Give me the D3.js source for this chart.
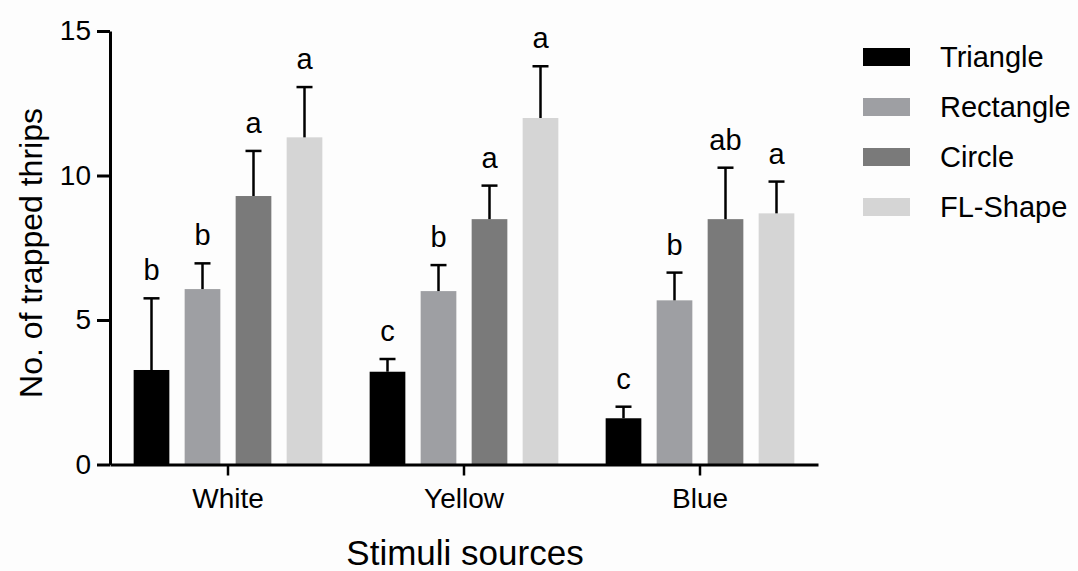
<!DOCTYPE html>
<html>
<head>
<meta charset="utf-8">
<script src="https://cdn.jsdelivr.net/npm/d3@7"></script>
<style>
  body { margin: 0; background: #fdfdfd; }
  svg { display: block; font-family: "Liberation Sans", Arial, sans-serif; }
</style>
</head>
<body>
<svg id="chart"></svg>
<script>
const groups = ["White", "Yellow", "Blue"];
const shapes = ["Triangle", "Rectangle", "Circle", "FL-Shape"];
const colors = ["#000000", "#9e9fa3", "#7a7a7a", "#d5d5d5"];

// means and upper error (SE) per shape, in group order
const triangleMean = [3.27, 3.21, 1.60];
const triangleErr = [2.48, 0.44, 0.40];
const rectangleMean = [6.07, 6.00, 5.68];
const rectangleErr = [0.89, 0.90, 0.96];
const circleMean = [9.29, 8.49, 8.49];
const circleErr = [1.56, 1.16, 1.78];
const flMean = [11.32, 11.99, 8.69];
const flErr = [1.74, 1.79, 1.10];

const triangleLetters = ["b", "c", "c"];
const rectangleLetters = ["b", "b", "b"];
const circleLetters = ["a", "a", "ab"];
const flLetters = ["a", "a", "a"];

const yTicks = [0, 5, 10, 15];

const width = 1078;
const height = 571;

const svg = d3.select("#chart")
  .attr("width", width)
  .attr("height", height);

const means = [triangleMean, rectangleMean, circleMean, flMean];
const errs = [triangleErr, rectangleErr, circleErr, flErr];
const letters = [triangleLetters, rectangleLetters, circleLetters, flLetters];

const rows = [];
groups.forEach((g, gi) => {
  shapes.forEach((s, si) => {
    rows.push({ group: g, shape: s, color: colors[si], mean: means[si][gi], err: errs[si][gi], letter: letters[si][gi] });
  });
});

const y = d3.scaleLinear().domain([0, 15]).range([464.5, 31]);
const x0 = d3.scaleBand().domain(groups).range([110, 818]);
const x1 = d3.scaleBand().domain(shapes).range([0, 204]).paddingInner(0.3).paddingOuter(0.15);
const groupOffset = (x0.bandwidth() - 204) / 2;

// bars
const bars = svg.append("g")
  .selectAll("g")
  .data(rows)
  .enter()
  .append("g")
  .attr("transform", d => `translate(${x0(d.group) + groupOffset + x1(d.shape)}, 0)`);

bars.append("rect")
  .attr("x", 0)
  .attr("y", d => y(d.mean))
  .attr("width", x1.bandwidth())
  .attr("height", d => y(0) - y(d.mean))
  .attr("fill", d => d.color);

// error bars (upper only)
const cx = x1.bandwidth() / 2;
bars.append("line")
  .attr("x1", cx).attr("x2", cx)
  .attr("y1", d => y(d.mean))
  .attr("y2", d => y(d.mean + d.err))
  .attr("stroke", "#000")
  .attr("stroke-width", 2.5);

bars.append("line")
  .attr("x1", cx - 8).attr("x2", cx + 8)
  .attr("y1", d => y(d.mean + d.err))
  .attr("y2", d => y(d.mean + d.err))
  .attr("stroke", "#000")
  .attr("stroke-width", 2.5);

bars.append("text")
  .attr("x", cx)
  .attr("y", d => y(d.mean + d.err) - 18)
  .attr("text-anchor", "middle")
  .attr("font-size", 29)
  .attr("fill", "#000")
  .text(d => d.letter);

// y axis
const yAxis = svg.append("g")
  .attr("transform", "translate(110,0)")
  .call(d3.axisLeft(y).tickValues(yTicks).tickSize(13).tickSizeOuter(0).tickPadding(6));
yAxis.select(".domain").attr("stroke-width", 3);
yAxis.selectAll(".tick line").attr("stroke-width", 3);
yAxis.selectAll(".tick text")
  .attr("font-size", 28)
  .attr("font-family", "Liberation Sans, Arial, sans-serif")
  .attr("fill", "#000");

// x axis
const xAxis = svg.append("g")
  .attr("transform", `translate(0,${y(0)})`)
  .call(d3.axisBottom(x0).tickSize(11).tickSizeOuter(0));
xAxis.select(".domain").attr("stroke-width", 3);
xAxis.selectAll(".tick line").attr("stroke-width", 2.5);
xAxis.selectAll(".tick text")
  .attr("y", 43)
  .attr("dy", 0)
  .attr("font-size", 28)
  .attr("font-family", "Liberation Sans, Arial, sans-serif")
  .attr("fill", "#000");

// axis titles
svg.append("text")
  .attr("transform", "translate(42,253) rotate(-90)")
  .attr("text-anchor", "middle")
  .attr("font-size", 32)
  .text("No. of trapped thrips");

svg.append("text")
  .attr("x", 465)
  .attr("y", 565)
  .attr("text-anchor", "middle")
  .attr("font-size", 35)
  .text("Stimuli sources");

// legend
const legend = svg.append("g")
  .attr("transform", "translate(863,48)")
  .selectAll("g")
  .data(shapes)
  .enter()
  .append("g")
  .attr("transform", (d, i) => `translate(0, ${i * 50})`);

legend.append("rect")
  .attr("width", 47)
  .attr("height", 18)
  .attr("fill", (d, i) => colors[i]);

legend.append("text")
  .attr("x", 77)
  .attr("y", 19)
  .attr("font-size", 29)
  .text(d => d);
</script>
</body>
</html>
